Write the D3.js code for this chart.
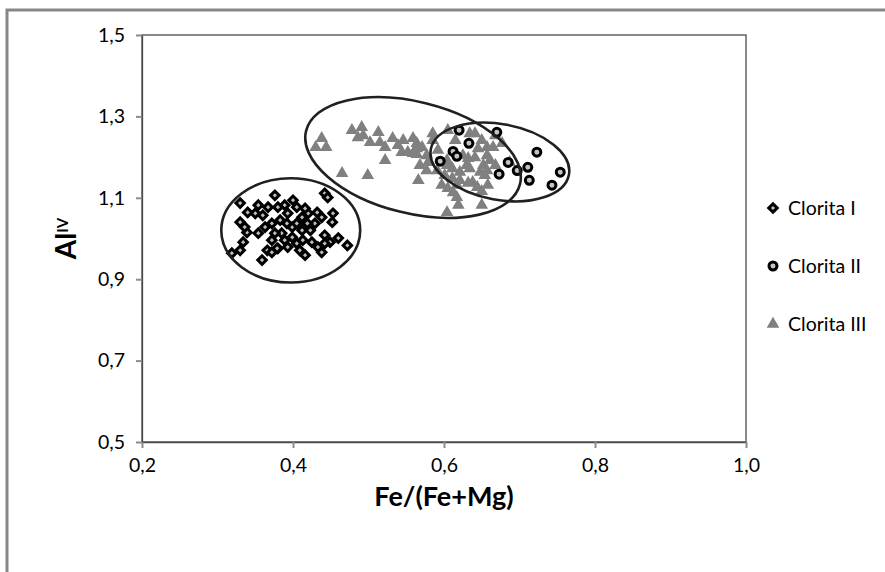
<!DOCTYPE html>
<html>
<head>
<meta charset="utf-8">
<script src="https://cdn.jsdelivr.net/npm/d3@7/dist/d3.min.js"></script>
<style>
  body { margin: 0; background: #fff; }
  svg text { font-family: Lato, "Liberation Sans", sans-serif; fill: #000; }
</style>
</head>
<body>
<svg width="885" height="572"></svg>
<script>
// waarden: [Fe/(Fe+Mg), AlIV]
var seriesNames = ["Clorita I", "Clorita II", "Clorita III"];

var cloritaI = [
  [0.330,1.087],[0.376,1.106],[0.442,1.111],[0.446,1.101],[0.319,0.964],[0.330,0.971],
  [0.359,0.947],[0.416,0.959],[0.438,0.966],[0.460,1.001],[0.472,0.983],[0.453,1.062],
  [0.452,1.040],[0.330,1.040],[0.339,1.015],[0.350,1.062],[0.360,1.057],[0.389,1.082],
  [0.405,1.077],[0.420,1.062],[0.432,1.064],[0.438,1.052],[0.429,1.037],[0.423,1.020],
  [0.412,1.020],[0.399,1.028],[0.385,1.013],[0.372,0.996],[0.366,0.971],[0.380,0.976],
  [0.393,0.979],[0.405,0.988],[0.413,0.996],[0.425,0.991],[0.442,1.008],[0.449,0.991],
  [0.442,0.988],[0.433,0.979],[0.383,1.045],[0.393,1.062],[0.412,1.052],[0.372,1.037],
  [0.363,1.028],[0.354,1.013],[0.376,1.013],[0.399,1.003],[0.392,1.037],[0.405,1.037],
  [0.419,1.037],[0.367,1.077],[0.354,1.082],[0.340,1.064],[0.336,1.028],[0.334,0.991],
  [0.379,0.976],[0.372,0.966],[0.389,0.996],[0.380,1.077],[0.400,1.094],[0.416,1.074],
  [0.409,0.971]
];

var cloritaII = [
  [0.620,1.266],[0.670,1.261],[0.612,1.214],[0.595,1.190],[0.617,1.202],[0.633,1.234],
  [0.723,1.212],[0.673,1.158],[0.685,1.187],[0.697,1.167],[0.711,1.175],[0.713,1.143],
  [0.754,1.163],[0.743,1.131]
];

var cloritaIII = [
  [0.430,1.224],[0.438,1.246],[0.444,1.224],[0.478,1.266],[0.486,1.248],[0.491,1.273],
  [0.493,1.253],[0.502,1.236],[0.513,1.261],[0.515,1.236],[0.522,1.224],[0.522,1.192],
  [0.499,1.155],[0.465,1.160],[0.532,1.246],[0.546,1.241],[0.544,1.212],[0.552,1.212],
  [0.559,1.246],[0.564,1.221],[0.564,1.207],[0.571,1.224],[0.568,1.180],[0.566,1.143],
  [0.579,1.187],[0.585,1.258],[0.585,1.241],[0.591,1.167],[0.601,1.155],[0.604,1.180],
  [0.605,1.266],[0.612,1.113],[0.617,1.131],[0.619,1.082],[0.604,1.064],[0.621,1.163],
  [0.630,1.180],[0.638,1.138],[0.625,1.204],[0.641,1.199],[0.641,1.258],[0.645,1.221],
  [0.650,1.082],[0.652,1.180],[0.654,1.155],[0.657,1.204],[0.658,1.131],[0.605,1.123],
  [0.597,1.131],[0.634,1.258],[0.650,1.241],[0.668,1.253],[0.677,1.234],[0.665,1.224],
  [0.657,1.224],[0.632,1.197],[0.661,1.192],[0.668,1.180],[0.687,1.187],[0.657,1.167],
  [0.648,1.163],[0.634,1.172],[0.611,1.172],[0.604,1.192],[0.611,1.148],[0.621,1.143],
  [0.632,1.136],[0.644,1.126],[0.650,1.116],[0.617,1.101],[0.577,1.204],[0.559,1.209],
  [0.564,1.234],[0.539,1.229],[0.577,1.167],[0.592,1.217],[0.615,1.241]
];

// ellipsen rond de groepen: middelpunt, halve assen (data-eenheden), hoek in graden
var ellipseCx = [0.397, 0.559, 0.674];
var ellipseCy = [1.020, 1.199, 1.188];
var ellipseRx = [0.092, 0.146, 0.093];
var ellipseRy = [0.128, 0.137, 0.093];
var ellipseAngle = [0, 14, 10.5];

var xTicks = [0.2, 0.4, 0.6, 0.8, 1.0];
var yTicks = [0.5, 0.7, 0.9, 1.1, 1.3, 1.5];

var svg = d3.select("svg"),
    margin = {top: 35, right: 139, bottom: 130, left: 142},
    width = +svg.attr("width") - margin.left - margin.right,
    height = +svg.attr("height") - margin.top - margin.bottom;

// grijze kader rond de hele grafiek
svg.append("rect")
    .attr("x", 7).attr("y", 10)
    .attr("width", 1000).attr("height", 1000)
    .attr("fill", "none")
    .attr("stroke", "#878787")
    .attr("stroke-width", 3);

var x = d3.scaleLinear().domain([0.2, 1.0]).range([0, width]),
    y = d3.scaleLinear().domain([0.5, 1.5]).range([height, 0]);

var g = svg.append("g")
    .attr("transform", "translate(" + margin.left + "," + margin.top + ")");

var komma = function(d) { return d3.format(".1f")(d).replace(".", ","); };

// plotkader boven en rechts
g.append("rect")
    .attr("width", width).attr("height", height)
    .attr("fill", "none")
    .attr("stroke", "#4a4a4a")
    .attr("stroke-width", 1.3);

var xAxis = g.append("g")
    .attr("transform", "translate(0," + height + ")")
    .call(d3.axisBottom(x).tickValues(xTicks).tickFormat(komma).tickSize(6).tickSizeOuter(0).tickPadding(10));

var yAxis = g.append("g")
    .call(d3.axisLeft(y).tickValues(yTicks).tickFormat(komma).tickSize(6).tickSizeOuter(0).tickPadding(11));

[xAxis, yAxis].forEach(function(a) {
  a.select(".domain").attr("stroke", "#4a4a4a").attr("stroke-width", 1.3);
  a.selectAll(".tick line").attr("stroke", "#8c8c8c").attr("stroke-width", 2);
  a.selectAll(".tick text")
      .style("font-family", "Lato, sans-serif")
      .style("font-size", "19.5px")
      .attr("fill", "#000");
});

// symbolen
var diamond = d3.symbol().type(d3.symbolSquare).size(36)(),
    circle = d3.symbol().type(d3.symbolCircle).size(50)(),
    triangle = d3.symbol().type(d3.symbolTriangle).size(18)();

function drawI(sel) {
  sel.attr("d", diamond)
     .attr("fill", "#bdbdbd").attr("stroke", "#000").attr("stroke-width", 3);
}
function drawII(sel) {
  sel.attr("d", circle)
     .attr("fill", "#c4c4c4").attr("stroke", "#000").attr("stroke-width", 3);
}
function drawIII(sel) {
  sel.attr("d", triangle)
     .attr("fill", "#000").attr("stroke", "#808080").attr("stroke-width", 3.6)
     .attr("stroke-linejoin", "miter");
}

g.selectAll(".c1")
  .data(cloritaI)
  .enter().append("path")
    .attr("class", "c1")
    .attr("transform", function(d) { return "translate(" + x(d[0]) + "," + y(d[1]) + ") rotate(45)"; })
    .call(drawI);

g.selectAll(".c3")
  .data(cloritaIII)
  .enter().append("path")
    .attr("class", "c3")
    .attr("transform", function(d) { return "translate(" + x(d[0]) + "," + y(d[1]) + ")"; })
    .call(drawIII);

g.selectAll(".c2")
  .data(cloritaII)
  .enter().append("path")
    .attr("class", "c2")
    .attr("transform", function(d) { return "translate(" + x(d[0]) + "," + y(d[1]) + ")"; })
    .call(drawII);

// ellipsen
g.selectAll(".ell")
  .data(d3.range(ellipseCx.length))
  .enter().append("ellipse")
    .attr("class", "ell")
    .attr("transform", function(i) {
      return "translate(" + x(ellipseCx[i]) + "," + y(ellipseCy[i]) + ") rotate(" + ellipseAngle[i] + ")";
    })
    .attr("rx", function(i) { return x(ellipseCx[i] + ellipseRx[i]) - x(ellipseCx[i]); })
    .attr("ry", function(i) { return y(ellipseCy[i]) - y(ellipseCy[i] + ellipseRy[i]); })
    .attr("fill", "none")
    .attr("stroke", "#231f20")
    .attr("stroke-width", 2.6);

// as-titels
g.append("text")
    .attr("x", width / 2)
    .attr("y", height + 64)
    .attr("text-anchor", "middle")
    .style("font-size", "27px")
    .style("font-weight", "bold")
    .text("Fe/(Fe+Mg)");

var yt = g.append("text")
    .attr("transform", "translate(-66," + (height / 2) + ") rotate(-90)")
    .attr("text-anchor", "middle")
    .style("font-size", "28px")
    .style("font-weight", "bold");
yt.append("tspan").text("Al");
yt.append("tspan").attr("dy", "-0.55em").style("font-size", "15px").text("IV");

// legenda
var legend = svg.append("g")
    .attr("transform", "translate(773,208)");

var item = legend.selectAll(".item")
  .data(seriesNames)
  .enter().append("g")
    .attr("class", "item")
    .attr("transform", function(d, i) { return "translate(0," + (i * 58) + ")"; });

item.append("path")
    .attr("transform", function(d, i) { return i === 0 ? "rotate(45)" : null; })
    .each(function(d, i) {
      var s = d3.select(this);
      if (i === 0) s.call(drawI);
      else if (i === 1) s.call(drawII);
      else s.call(drawIII);
    });

item.append("text")
    .attr("x", 15)
    .attr("dy", "0.35em")
    .style("font-size", "19.5px")
    .text(function(d) { return d; });
</script>
</body>
</html>
